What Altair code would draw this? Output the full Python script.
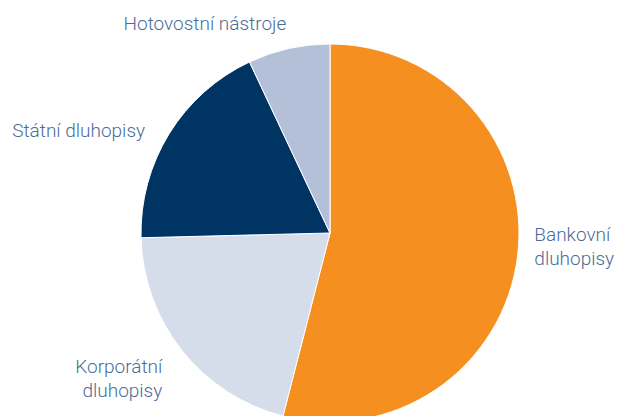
import altair as alt
import pandas as pd

categories = ["Bankovní dluhopisy", "Korporátní dluhopisy", "Státní dluhopisy", "Hotovostní nástroje"]
labels = ["Bankovní\ndluhopisy", "Korporátní\ndluhopisy", "Státní dluhopisy", "Hotovostní nástroje"]
values = [54.0, 20.6, 18.4, 7.0]
colors = ["#F58F1F", "#D5DCEA", "#003463", "#B3C0D7"]

df = pd.DataFrame({"cat": categories, "label": labels, "value": values, "order": list(range(len(values)))})

CX, CY, R = 322, 225, 189

base = alt.Chart(df)

pie = base.mark_arc(radius=R, stroke="white", strokeWidth=1).encode(
    theta=alt.Theta("value:Q", stack=True),
    color=alt.Color("cat:N", scale=alt.Scale(domain=categories, range=colors), legend=None),
    order=alt.Order("order:Q"),
    x=alt.value(CX), y=alt.value(CY),
)

def label_layer(cat, r, align, dx, dy):
    return (
        base.transform_window(cum="sum(value)", sort=[alt.SortField("order")], frame=[None, 0])
        .transform_calculate(mid="datum.cum - datum.value / 2")
        .transform_filter(alt.datum.cat == cat)
        .mark_text(radius=r, align=align, baseline="middle", dx=dx, dy=dy, lineBreak="\n",
                   font="Roboto", fontWeight=300, fontSize=19, color="#4A6C96", lineHeight=24)
        .encode(
            theta=alt.Theta("mid:Q", scale=alt.Scale(domain=[0, sum(values)])),
            text=alt.Text("label:N"),
            x=alt.value(CX), y=alt.value(CY),
        )
    )

layers = [
    pie,
    label_layer("Bankovní dluhopisy", 212, "left", -6, -25),
    label_layer("Korporátní dluhopisy", 231, "right", 13, -10),
    label_layer("Státní dluhopisy", 195, "right", -19, 0),
    label_layer("Hotovostní nástroje", 216, "center", -78, 2),
]

chart = alt.layer(*layers).properties(
    width=606, height=408, padding=0,
    autosize=alt.AutoSizeParams(type="none"),
).configure_view(stroke=None)

chart.save("out.html", embed_options={"renderer": "svg", "actions": False})
